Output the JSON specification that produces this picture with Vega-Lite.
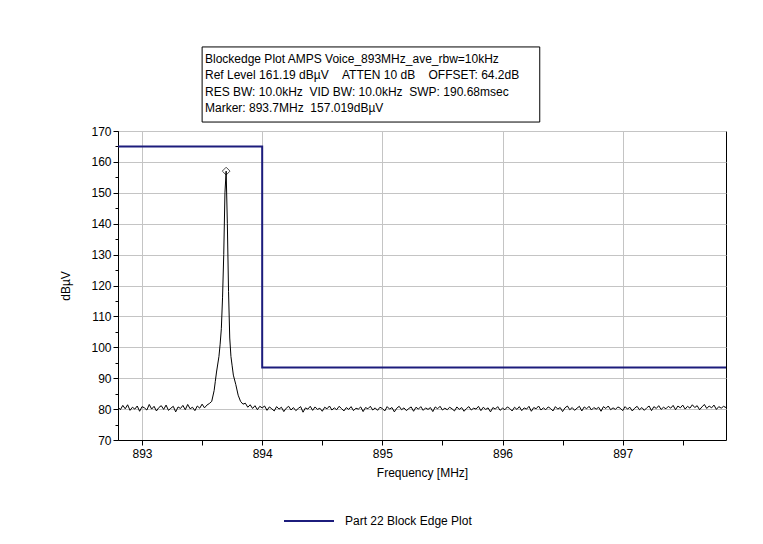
{
  "$schema": "https://vega.github.io/schema/vega-lite/v6.json",
  "width": 608,
  "height": 309,
  "autosize": {"type": "none"},
  "padding": {"left": 118, "top": 131, "right": 37, "bottom": 104},
  "background": "white",
  "title": {
    "text": ["Blockedge Plot AMPS Voice_893MHz_ave_rbw=10kHz", "Ref Level 161.19 dBµV\u00a0\u00a0\u00a0\u00a0ATTEN 10 dB\u00a0\u00a0\u00a0\u00a0OFFSET: 64.2dB", "RES BW: 10.0kHz\u00a0\u00a0VID BW: 10.0kHz\u00a0\u00a0SWP: 190.68msec", "Marker: 893.7MHz\u00a0\u00a0157.019dBµV"],
    "anchor": "start",
    "frame": "group",
    "dx": 87,
    "offset": -69,
    "font": "Liberation Sans",
    "fontSize": 12,
    "fontWeight": "normal",
    "lineHeight": 16.5,
    "color": "black"
  },
  "config": {
    "view": {"stroke": "black", "strokeWidth": 1},
    "axis": {
      "labelFont": "Liberation Sans",
      "labelFontSize": 12,
      "labelColor": "black",
      "labelOverlap": false,
      "titleFont": "Liberation Sans",
      "titleFontSize": 12,
      "titleFontWeight": "normal",
      "titleColor": "black",
      "domainColor": "black",
      "tickColor": "black",
      "grid": true,
      "gridWidth": 1
    }
  },
  "datasets": {
    "noise": [
      {"f":892.80,"v":80.7},{"f":892.82,"v":79.8},{"f":892.84,"v":81.2},{"f":892.86,"v":80.1},{"f":892.88,"v":81.4},{"f":892.90,"v":79.6},{"f":892.92,"v":80.6},{"f":892.94,"v":80.0},{"f":892.96,"v":81.0},{"f":892.98,"v":79.3},
      {"f":893.00,"v":80.8},{"f":893.02,"v":80.4},{"f":893.04,"v":79.7},{"f":893.06,"v":81.5},{"f":893.08,"v":80.0},{"f":893.10,"v":80.9},{"f":893.12,"v":79.4},{"f":893.14,"v":80.5},{"f":893.16,"v":81.1},{"f":893.18,"v":79.9},
      {"f":893.20,"v":81.3},{"f":893.22,"v":79.6},{"f":893.24,"v":80.3},{"f":893.26,"v":80.9},{"f":893.28,"v":79.1},{"f":893.30,"v":80.7},{"f":893.32,"v":80.2},{"f":893.34,"v":81.2},{"f":893.36,"v":79.8},{"f":893.38,"v":81.5},
      {"f":893.40,"v":80.1},{"f":893.42,"v":80.6},{"f":893.44,"v":79.5},{"f":893.46,"v":81.0},{"f":893.48,"v":80.3},{"f":893.50,"v":81.6},{"f":893.52,"v":80.4},{"f":893.54,"v":81.3},{"f":893.56,"v":81.8},
      {"f":893.58,"v":82.5},{"f":893.60,"v":86},{"f":893.61,"v":89},{"f":893.62,"v":92},{"f":893.64,"v":97},{"f":893.65,"v":101},{"f":893.66,"v":106},{"f":893.67,"v":116},{"f":893.68,"v":130},{"f":893.69,"v":150},
      {"f":893.70,"v":157},{"f":893.71,"v":140},{"f":893.72,"v":118},{"f":893.73,"v":103},{"f":893.74,"v":97},{"f":893.75,"v":94},{"f":893.76,"v":91},{"f":893.78,"v":88},{"f":893.80,"v":84.5},{"f":893.82,"v":82.5},{"f":893.84,"v":81.6},
      {"f":893.86,"v":81.9},{"f":893.88,"v":80.6},{"f":893.90,"v":81.4},{"f":893.92,"v":80.2},{"f":893.94,"v":81.1},{"f":893.96,"v":79.8},{"f":893.98,"v":80.9},
      {"f":894.00,"v":80.4},{"f":894.02,"v":81.0},{"f":894.04,"v":79.6},{"f":894.06,"v":80.7},{"f":894.08,"v":80.1},{"f":894.10,"v":79.4},{"f":894.12,"v":80.8},{"f":894.14,"v":80.0},{"f":894.16,"v":80.6},{"f":894.18,"v":79.2},
      {"f":894.20,"v":80.3},{"f":894.22,"v":80.9},{"f":894.24,"v":79.7},{"f":894.26,"v":80.5},{"f":894.28,"v":79.5},{"f":894.30,"v":80.2},{"f":894.32,"v":80.8},{"f":894.34,"v":79.0},{"f":894.36,"v":80.4},{"f":894.38,"v":80.0},
      {"f":894.40,"v":80.9},{"f":894.42,"v":79.6},{"f":894.44,"v":80.7},{"f":894.46,"v":79.9},{"f":894.48,"v":80.3},{"f":894.50,"v":79.3},{"f":894.52,"v":80.6},{"f":894.54,"v":80.1},{"f":894.56,"v":81.0},{"f":894.58,"v":79.7},
      {"f":894.60,"v":80.4},{"f":894.62,"v":79.8},{"f":894.64,"v":80.9},{"f":894.66,"v":80.2},{"f":894.68,"v":79.4},{"f":894.70,"v":80.5},{"f":894.72,"v":79.9},{"f":894.74,"v":80.8},{"f":894.76,"v":79.5},{"f":894.78,"v":80.3},
      {"f":894.80,"v":80.0},{"f":894.82,"v":80.7},{"f":894.84,"v":79.2},{"f":894.86,"v":80.5},{"f":894.88,"v":80.1},{"f":894.90,"v":80.9},{"f":894.92,"v":79.7},{"f":894.94,"v":80.4},{"f":894.96,"v":79.6},{"f":894.98,"v":80.6},
      {"f":895.00,"v":80.2},{"f":895.02,"v":79.4},{"f":895.04,"v":80.8},{"f":895.06,"v":80.0},{"f":895.08,"v":80.5},{"f":895.10,"v":79.1},{"f":895.12,"v":80.3},{"f":895.14,"v":80.9},{"f":895.16,"v":79.8},{"f":895.18,"v":80.4},
      {"f":895.20,"v":79.5},{"f":895.22,"v":80.2},{"f":895.24,"v":80.7},{"f":895.26,"v":79.3},{"f":895.28,"v":80.6},{"f":895.30,"v":80.0},{"f":895.32,"v":80.8},{"f":895.34,"v":79.6},{"f":895.36,"v":80.4},{"f":895.38,"v":79.9},
      {"f":895.40,"v":80.5},{"f":895.42,"v":79.2},{"f":895.44,"v":80.7},{"f":895.46,"v":80.1},{"f":895.48,"v":80.9},{"f":895.50,"v":79.7},{"f":895.52,"v":80.3},{"f":895.54,"v":79.8},{"f":895.56,"v":80.6},{"f":895.58,"v":80.1},
      {"f":895.60,"v":79.4},{"f":895.62,"v":80.7},{"f":895.64,"v":79.9},{"f":895.66,"v":80.5},{"f":895.68,"v":79.3},{"f":895.70,"v":80.2},{"f":895.72,"v":80.8},{"f":895.74,"v":79.7},{"f":895.76,"v":80.3},{"f":895.78,"v":80.0},
      {"f":895.80,"v":80.9},{"f":895.82,"v":79.5},{"f":895.84,"v":80.6},{"f":895.86,"v":79.9},{"f":895.88,"v":80.4},{"f":895.90,"v":79.1},{"f":895.92,"v":80.5},{"f":895.94,"v":80.0},{"f":895.96,"v":80.8},{"f":895.98,"v":79.6},
      {"f":896.00,"v":80.3},{"f":896.02,"v":79.8},{"f":896.04,"v":80.7},{"f":896.06,"v":80.2},{"f":896.08,"v":79.4},{"f":896.10,"v":80.6},{"f":896.12,"v":79.9},{"f":896.14,"v":80.8},{"f":896.16,"v":79.5},{"f":896.18,"v":80.4},
      {"f":896.20,"v":80.0},{"f":896.22,"v":80.9},{"f":896.24,"v":79.3},{"f":896.26,"v":80.5},{"f":896.28,"v":80.1},{"f":896.30,"v":81.0},{"f":896.32,"v":79.7},{"f":896.34,"v":80.4},{"f":896.36,"v":79.8},{"f":896.38,"v":80.7},
      {"f":896.40,"v":80.2},{"f":896.42,"v":79.4},{"f":896.44,"v":80.8},{"f":896.46,"v":80.0},{"f":896.48,"v":80.5},{"f":896.50,"v":79.2},{"f":896.52,"v":80.4},{"f":896.54,"v":81.0},{"f":896.56,"v":79.8},{"f":896.58,"v":80.5},
      {"f":896.60,"v":79.6},{"f":896.62,"v":80.3},{"f":896.64,"v":80.9},{"f":896.66,"v":79.4},{"f":896.68,"v":80.7},{"f":896.70,"v":80.1},{"f":896.72,"v":80.9},{"f":896.74,"v":79.7},{"f":896.76,"v":80.5},{"f":896.78,"v":80.0},
      {"f":896.80,"v":80.6},{"f":896.82,"v":79.3},{"f":896.84,"v":80.8},{"f":896.86,"v":80.2},{"f":896.88,"v":81.0},{"f":896.90,"v":79.8},{"f":896.92,"v":80.4},{"f":896.94,"v":79.9},{"f":896.96,"v":80.7},{"f":896.98,"v":80.3},
      {"f":897.00,"v":79.5},{"f":897.02,"v":80.8},{"f":897.04,"v":80.0},{"f":897.06,"v":80.6},{"f":897.08,"v":79.4},{"f":897.10,"v":80.3},{"f":897.12,"v":80.9},{"f":897.14,"v":79.8},{"f":897.16,"v":80.5},{"f":897.18,"v":79.6},
      {"f":897.20,"v":80.4},{"f":897.22,"v":81.0},{"f":897.24,"v":79.5},{"f":897.26,"v":80.8},{"f":897.28,"v":80.2},{"f":897.30,"v":81.1},{"f":897.32,"v":79.9},{"f":897.34,"v":80.6},{"f":897.36,"v":80.1},{"f":897.38,"v":80.9},
      {"f":897.40,"v":80.3},{"f":897.42,"v":81.2},{"f":897.44,"v":79.8},{"f":897.46,"v":81.0},{"f":897.48,"v":80.4},{"f":897.50,"v":81.3},{"f":897.52,"v":80.0},{"f":897.54,"v":80.9},{"f":897.56,"v":80.3},{"f":897.58,"v":81.4},
      {"f":897.60,"v":80.5},{"f":897.62,"v":81.1},{"f":897.64,"v":79.8},{"f":897.66,"v":80.7},{"f":897.68,"v":81.5},{"f":897.70,"v":80.2},{"f":897.72,"v":81.0},{"f":897.74,"v":80.4},{"f":897.76,"v":81.3},{"f":897.78,"v":79.9},
      {"f":897.80,"v":80.8},{"f":897.82,"v":80.3},{"f":897.84,"v":80.9},{"f":897.86,"v":80.5}
    ],
    "edge": [
      {"f":892.8,"v":165,"i":1,"series":"Part 22 Block Edge Plot"},
      {"f":894.0,"v":165,"i":2,"series":"Part 22 Block Edge Plot"},
      {"f":894.0,"v":93.5,"i":3,"series":"Part 22 Block Edge Plot"},
      {"f":897.86,"v":93.5,"i":4,"series":"Part 22 Block Edge Plot"}
    ],
    "marker": [
      {"f":893.7,"v":157.019}
    ],
    "box": [
      {"x1":893.5,"x2":896.31,"y1":172.9,"y2":197.2}
    ]
  },
  "layer": [
    {
      "data": {"name": "noise"},
      "mark": {"type": "line", "color": "black", "strokeWidth": 1, "clip": true},
      "encoding": {
        "x": {
          "field": "f", "type": "quantitative",
          "scale": {"domain": [892.8, 897.86], "nice": false, "zero": false},
          "axis": {
            "title": "Frequency [MHz]",
            "values": [893, 893.5, 894, 894.5, 895, 895.5, 896, 896.5, 897, 897.5],
            "tickCount": 40,
            "labelExpr": "datum.value % 1 === 0 ? format(datum.value, 'd') : ''",
            "gridColor": {"condition": {"test": "datum.value % 1 !== 0", "value": "transparent"}, "value": "#c4c4c4"},
            "tickSize": 5,
            "labelPadding": 3,
            "titlePadding": 8
          }
        },
        "y": {
          "field": "v", "type": "quantitative",
          "scale": {"domain": [70, 170], "nice": false, "zero": false},
          "axis": {
            "title": "dBµV",
            "values": [70, 75, 80, 85, 90, 95, 100, 105, 110, 115, 120, 125, 130, 135, 140, 145, 150, 155, 160, 165, 170],
            "tickCount": 40,
            "labelExpr": "datum.value % 10 === 0 ? format(datum.value, 'd') : ''",
            "gridColor": {"condition": {"test": "datum.value % 10 !== 0", "value": "transparent"}, "value": "#c4c4c4"},
            "tickSize": {"condition": {"test": "datum.value % 10 !== 0", "value": 3}, "value": 5},
            "labelPadding": 2,
            "titlePadding": 18
          }
        }
      }
    },
    {
      "data": {"name": "edge"},
      "mark": {"type": "line", "strokeWidth": 2},
      "encoding": {
        "x": {"field": "f", "type": "quantitative"},
        "y": {"field": "v", "type": "quantitative"},
        "order": {"field": "i", "type": "quantitative"},
        "color": {
          "field": "series", "type": "nominal",
          "scale": {"domain": ["Part 22 Block Edge Plot"], "range": ["#1c1c7c"]},
          "legend": {
            "title": null,
            "orient": "none",
            "legendX": 165,
            "legendY": 364,
            "symbolType": "stroke",
            "symbolSize": 2500,
            "symbolStrokeWidth": 2,
            "labelFont": "Liberation Sans",
            "labelFontSize": 12,
            "labelColor": "black",
            "labelOffset": 10
          }
        }
      }
    },
    {
      "data": {"name": "marker"},
      "mark": {"type": "point", "shape": "diamond", "filled": false, "stroke": "black", "strokeWidth": 1, "size": 60},
      "encoding": {
        "x": {"field": "f", "type": "quantitative"},
        "y": {"field": "v", "type": "quantitative"}
      }
    },
    {
      "data": {"name": "box"},
      "mark": {"type": "rect", "fill": "transparent", "stroke": "black", "strokeWidth": 1, "clip": false},
      "encoding": {
        "x": {"field": "x1", "type": "quantitative"},
        "x2": {"field": "x2"},
        "y": {"field": "y1", "type": "quantitative"},
        "y2": {"field": "y2"}
      }
    }
  ]
}
